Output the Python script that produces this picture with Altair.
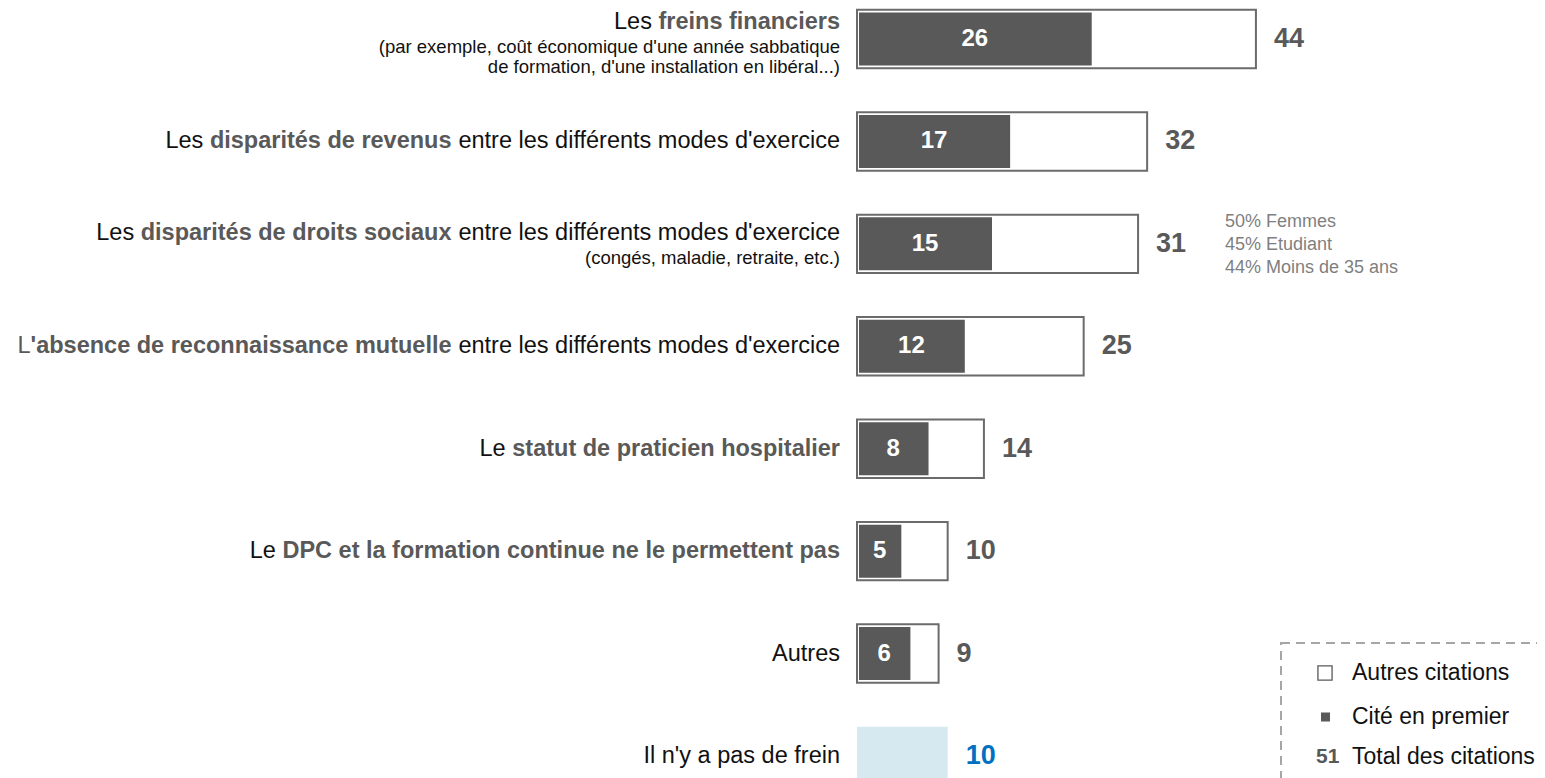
import altair as alt
import pandas as pd

# ---------------- data ----------------
categories = ["freins", "revenus", "droits", "reconnaissance", "statut", "dpc", "autres", "aucun"]
first_cited = [26, 17, 15, 12, 8, 5, 6, None]
total_cited = [44, 32, 31, 25, 14, 10, 9, 10]
value_colors = ["#595959"] * 7 + ["#0070c0"]

prefixes = ["Les", "Les", "Les", "L", "Le", "Le", "", ""]
bold_parts = [
    "freins financiers",
    "disparités de revenus",
    "disparités de droits sociaux",
    "'absence de reconnaissance mutuelle",
    "statut de praticien hospitalier",
    "DPC et la formation continue ne le permettent pas",
    "",
    "",
]
suffixes = [
    "",
    "entre les différents modes d'exercice",
    "entre les différents modes d'exercice",
    "entre les différents modes d'exercice",
    "",
    "",
    "Autres",
    "Il n'y a pas de frein",
]
prefix_colors = ["#111111", "#111111", "#111111", "#595959", "#111111", "#111111", "#111111", "#111111"]
subtitle_lines = [
    ["(par exemple, coût économique d'une année sabbatique", "de formation, d'une installation en libéral...)"],
    [],
    ["(congés, maladie, retraite, etc.)"],
    [], [], [], [], [],
]
profile_notes = ["50% Femmes", "45% Etudiant", "44% Moins de 35 ans"]
legend_labels = ["Autres citations", "Cité en premier", "Total des citations"]
legend_total = ["51"]

# ---------------- layout ----------------
FONT = "Liberation Sans"
W, H = 680, 770
XMAX = 75
PX = W / XMAX
LABEL_RIGHT = -17
MAIN_FS = 23.5
SUB_FS = 18.5
GRAY = "#595959"
TXT = "#111111"

REG = {' ': 278, "'": 191, '(': 333, ')': 333, ',': 278, '.': 278, 'a': 556, 'b': 556, 'c': 500,
       'd': 556, 'e': 556, 'é': 556, 'f': 278, 'g': 556, 'h': 556, 'i': 222, 'l': 222, 'm': 833,
       'n': 556, 'o': 556, 'p': 556, 'q': 556, 'r': 333, 's': 500, 't': 278, 'u': 556, 'û': 556,
       'v': 500, 'x': 500, 'y': 500, 'L': 556, 'A': 667, 'I': 278}
BOLD = {' ': 278, "'": 238, 'a': 556, 'b': 611, 'c': 556, 'd': 611, 'e': 556, 'é': 556, 'f': 333,
        'h': 611, 'i': 278, 'l': 278, 'm': 889, 'n': 611, 'o': 611, 'p': 611, 'r': 389, 's': 556,
        't': 333, 'u': 611, 'v': 556, 'x': 556, 'D': 722, 'P': 667, 'C': 722}


def tw(s, table, fs):
    return sum(table.get(ch, 556) for ch in s) * fs / 1000.0


main_dy = {0: -17, 2: -11}
sub_dy = {0: [8, 28], 2: [14]}

reg_rows, bold_rows, sub_rows = [], [], []
for i, cat in enumerate(categories):
    dy = main_dy.get(i, 0)
    x = LABEL_RIGHT
    if suffixes[i]:
        reg_rows.append({"cat": cat, "txt": suffixes[i], "xu": x / PX, "col": TXT, "dy": dy})
        x -= tw(suffixes[i], REG, MAIN_FS)
        if bold_parts[i]:
            x -= tw(" ", REG, MAIN_FS)
    if bold_parts[i]:
        bold_rows.append({"cat": cat, "txt": bold_parts[i], "xu": x / PX, "col": GRAY, "dy": dy})
        x -= tw(bold_parts[i], BOLD, MAIN_FS)
        if prefixes[i] and not bold_parts[i].startswith("'"):
            x -= tw(" ", REG, MAIN_FS)
    if prefixes[i]:
        reg_rows.append({"cat": cat, "txt": prefixes[i], "xu": x / PX, "col": prefix_colors[i], "dy": dy})
    for j, line in enumerate(subtitle_lines[i]):
        sub_rows.append({"cat": cat, "txt": line, "xu": LABEL_RIGHT / PX, "col": TXT, "dy": sub_dy[i][j]})

bars = pd.DataFrame({"cat": categories, "first": first_cited, "total": total_cited, "vcolor": value_colors})
bars["start"] = 0
cited = bars[bars["first"].notna()].copy()
none_row = bars[bars["first"].isna()].copy()

xscale = alt.Scale(domain=[0, XMAX], nice=False, zero=True)
yscale = alt.Scale(domain=categories, range=[0, 779], paddingInner=0.43, paddingOuter=0.018)


def X(field):
    return alt.X(f"{field}:Q", scale=xscale, axis=None)


def Y():
    return alt.Y("cat:N", scale=yscale, axis=None)


outer = alt.Chart(cited).mark_bar(fill="white", stroke="#6b6b6b", strokeWidth=2).encode(
    x=X("total"), y=Y())
dark = alt.Chart(cited).mark_bar(color=GRAY, height=53, xOffset=2, x2Offset=-1).encode(
    x=X("start"), x2="first:Q", y=Y())
light = alt.Chart(none_row).mark_bar(color="#d6e9f1").encode(x=X("total"), y=Y())

inner = alt.Chart(cited).transform_calculate(mid="datum.first / 2").mark_text(
    font=FONT, fontSize=24, fontWeight="bold", color="white", baseline="middle"
).encode(x=X("mid"), y=Y(), text=alt.Text("first:Q", format="d"))

values = alt.Chart(bars).mark_text(
    font=FONT, fontSize=27, fontWeight="bold", align="left", baseline="middle", dx=18
).encode(x=X("total"), y=Y(), text=alt.Text("total:Q", format="d"),
         color=alt.Color("vcolor:N", scale=None))

label_layers = []


def seg_layers(rows, weight, fs):
    out = []
    if not rows:
        return out
    df = pd.DataFrame(rows)
    for dyv in sorted(df["dy"].unique()):
        sub = df[df["dy"] == dyv]
        out.append(
            alt.Chart(sub).mark_text(font=FONT, fontSize=fs, fontWeight=weight, align="right",
                                     baseline="middle", dy=float(dyv))
            .encode(x=X("xu"), y=Y(), text="txt:N", color=alt.Color("col:N", scale=None))
        )
    return out


label_layers += seg_layers(reg_rows, "normal", MAIN_FS)
label_layers += seg_layers(bold_rows, "bold", MAIN_FS)
label_layers += seg_layers(sub_rows, "normal", SUB_FS)

notes_layers = []
for k, note in enumerate(profile_notes):
    dfn = pd.DataFrame({"cat": [categories[2]], "txt": [note]})
    notes_layers.append(
        alt.Chart(dfn).mark_text(font=FONT, fontSize=18, color="#7f7f7f", align="left",
                                 baseline="middle", dy=-22 + 23 * k)
        .encode(x=alt.value(368), y=Y(), text="txt:N")
    )

# legend box
box = alt.Chart(pd.DataFrame({"k": [0]})).mark_rect(
    fill=None, stroke="#a6a6a6", strokeWidth=2, strokeDash=[9, 6]
).encode(x=alt.value(424), x2=alt.value(720), y=alt.value(635), y2=alt.value(820))

sq_open = alt.Chart(pd.DataFrame({"k": [legend_labels[0]]})).mark_point(
    shape="square", size=200, filled=False, stroke=GRAY, strokeWidth=1.3, opacity=1
).encode(x=alt.value(468), y=alt.value(665))
sq_fill = alt.Chart(pd.DataFrame({"k": [legend_labels[1]]})).mark_point(
    shape="square", size=81, filled=True, color=GRAY, opacity=1
).encode(x=alt.value(468.5), y=alt.value(709))
tot_txt = alt.Chart(pd.DataFrame({"txt": legend_total})).mark_text(
    font=FONT, fontSize=21, fontWeight="bold", color=GRAY, align="left", baseline="middle"
).encode(x=alt.value(459), y=alt.value(749), text="txt:N")

leg_text_layers = []
for k, lab in enumerate(legend_labels):
    leg_text_layers.append(
        alt.Chart(pd.DataFrame({"txt": [lab]})).mark_text(
            font=FONT, fontSize=23, color=TXT, align="left", baseline="middle"
        ).encode(x=alt.value(495), y=alt.value([665, 709, 749][k]), text="txt:N")
    )

chart = alt.layer(
    outer, dark, light, inner, values, *label_layers, *notes_layers,
    box, sq_open, sq_fill, tot_txt, *leg_text_layers
).properties(
    width=W, height=H,
    padding={"left": 849, "top": 0, "right": 0, "bottom": 0},
    autosize=alt.AutoSizeParams(type="none"),
).configure_view(stroke=None)

chart.save("out.html", embed_options={"renderer": "svg", "actions": False})
